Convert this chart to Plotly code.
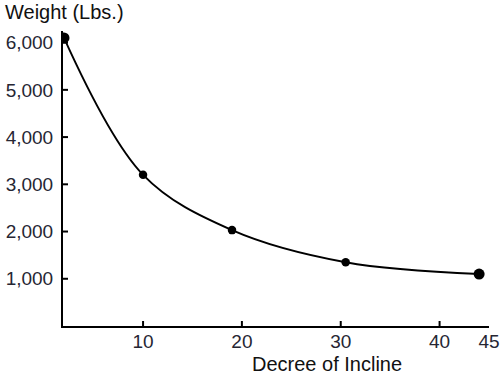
import plotly.graph_objects as go

incline = [2, 10, 19, 30.5, 44]
weight = [6100, 3200, 2030, 1350, 1100]
x_tick_vals = [10, 20, 30, 40, 45]
x_tick_text = ["10", "20", "30", "40", "45"]
x_tick_marks = [10, 20, 30, 40]
y_tick_vals = [1000, 2000, 3000, 4000, 5000, 6000]
y_tick_text = ["1,000", "2,000", "3,000", "4,000", "5,000", "6,000"]

FONT = "Liberation Sans"
LABEL_COLOR = "#262633"
XR = [1.9, 45]
YR = [0, 6246]

fig = go.Figure()
fig.add_trace(go.Scatter(
    x=incline, y=weight, mode="lines+markers",
    line=dict(color="black", width=1.9, shape="spline", smoothing=1.0),
    marker=dict(color="black", size=[11, 8.5, 8.5, 8.5, 11], opacity=1,
                line=dict(width=0)),
    showlegend=False, hoverinfo="skip"))

fig.update_layout(
    template="none",
    width=500, height=377,
    margin=dict(l=63, r=11, t=31, b=51, autoexpand=False),
    paper_bgcolor="white", plot_bgcolor="white",
    font=dict(family=FONT, size=19, color=LABEL_COLOR),
    xaxis=dict(range=XR, showgrid=False, zeroline=False, fixedrange=True,
               automargin=False, showline=True, linecolor="black", linewidth=2,
               tickmode="array", tickvals=x_tick_vals, ticktext=x_tick_text,
               ticks="", ticklabelstandoff=-3,
               tickfont=dict(family=FONT, size=19, color=LABEL_COLOR)),
    yaxis=dict(range=YR, showgrid=False, zeroline=False, fixedrange=True,
               automargin=False, showline=True, linecolor="black", linewidth=2,
               tickmode="array", tickvals=y_tick_vals, ticktext=y_tick_text,
               ticks="", ticklabelstandoff=4,
               tickfont=dict(family=FONT, size=19, color=LABEL_COLOR)),
)

# tick marks crossing the axis lines
for v in x_tick_marks:
    fig.add_shape(type="line", xref="x", yref="y", x0=v, x1=v,
                  ysizemode="pixel", yanchor=YR[0], y0=-5, y1=5,
                  line=dict(color="black", width=2))
for v in y_tick_vals:
    fig.add_shape(type="line", xref="x", yref="y", y0=v, y1=v,
                  xsizemode="pixel", xanchor=XR[0], x0=-5, x1=5,
                  line=dict(color="black", width=2))

fig.add_annotation(text="Weight (Lbs.)", xref="paper", yref="paper",
                   x=-60/426, y=1.0, xanchor="left", yanchor="bottom",
                   yshift=6, showarrow=False,
                   font=dict(family=FONT, size=20, color="#111111"))
fig.add_annotation(text="Decree of Incline", xref="paper", yref="paper",
                   x=(327 - 63) / 426, y=0, xanchor="center", yanchor="top",
                   yshift=-25, showarrow=False,
                   font=dict(family=FONT, size=20, color="#111111"))

fig.write_html("out.html", config={"displayModeBar": False},
               post_script="document.body.style.margin='0';")
